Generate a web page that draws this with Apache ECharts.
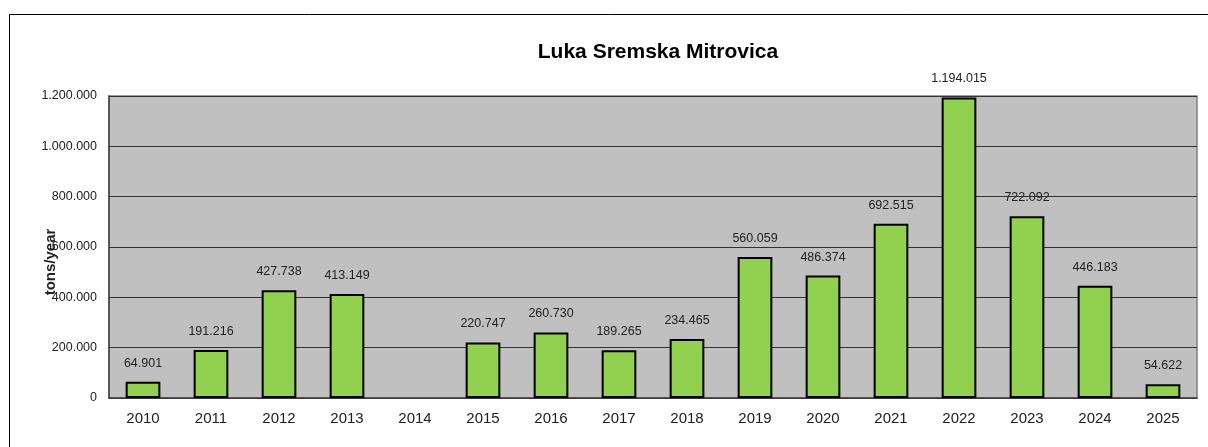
<!DOCTYPE html>
<html>
<head>
<meta charset="utf-8">
<script src="https://cdn.jsdelivr.net/npm/echarts@6/dist/echarts.min.js"></script>
<style>
  html, body { margin: 0; padding: 0; background: #fff; }
  #chart { width: 1208px; height: 447px; }
</style>
</head>
<body>
<div id="chart"></div>
<script>
const years = ['2010', '2011', '2012', '2013', '2014', '2015', '2016', '2017',
  '2018', '2019', '2020', '2021', '2022', '2023', '2024', '2025'];
const tons = [64901, 191216, 427738, 413149, null, 220747, 260730, 189265,
  234465, 560059, 486374, 692515, 1194015, 722092, 446183, 54622];
const yTicks = [0, 200000, 400000, 600000, 800000, 1000000, 1200000];

// 1234567 -> "1.234.567"
const dots = (v) => String(Math.round(v)).replace(/\B(?=(\d{3})+(?!\d))/g, '.');

const chart = echarts.init(document.getElementById('chart'));

const option = {
  animation: false,
  textStyle: { fontFamily: 'Liberation Sans, Arial, sans-serif' },
  title: {
    text: 'Luka Sremska Mitrovica',
    left: 653,
    top: 37,
    textAlign: 'center',
    textStyle: { fontSize: 21, fontWeight: 'bold', color: '#000', fontFamily: 'Liberation Sans, Arial, sans-serif' },
  },
  graphic: [
    {
      type: 'rect',
      shape: { x: 9.5, y: 14.5, width: 1220, height: 450 },
      style: { fill: 'none', stroke: '#000', lineWidth: 1 },
      silent: true,
    },
  ],
  grid: {
    left: 109, right: 11, top: 96, bottom: 49,
    show: true,
    backgroundColor: '#c0c0c0',
    borderColor: '#808080',
    borderWidth: 1.5,
  },
  xAxis: {
    type: 'category',
    data: years,
    axisLine: { show: true, lineStyle: { color: '#404040', width: 1.5 } },
    axisTick: { show: false },
    axisLabel: { color: '#222', fontSize: 15, margin: 13 },
  },
  yAxis: {
    type: 'value',
    min: yTicks[0],
    max: yTicks[yTicks.length - 1],
    interval: 200000,
    name: 'tons/year',
    nameLocation: 'middle',
    nameGap: 51,
    nameMoveOverlap: false,
    nameTextStyle: { color: '#222', fontSize: 15, fontWeight: 'bold', padding: [0, 30, 0, 0] },
    axisLine: { show: true, lineStyle: { color: '#404040', width: 1.5 } },
    axisTick: { show: false },
    axisLabel: { color: '#222', fontSize: 12.5, margin: 12, formatter: (v) => dots(v) },
    splitLine: { lineStyle: { color: '#333', width: 1 } },
  },
  series: [
    {
      type: 'bar',
      data: tons,
      barWidth: '51%',
      itemStyle: { color: '#92d050', borderColor: '#000', borderWidth: 2 },
      label: {
        show: true,
        position: 'top',
        distance: 12,
        color: '#222',
        fontSize: 12.5,
        formatter: (p) => (p.value == null ? '' : dots(p.value)),
      },
    },
  ],
};

chart.setOption(option);
</script>
</body>
</html>
